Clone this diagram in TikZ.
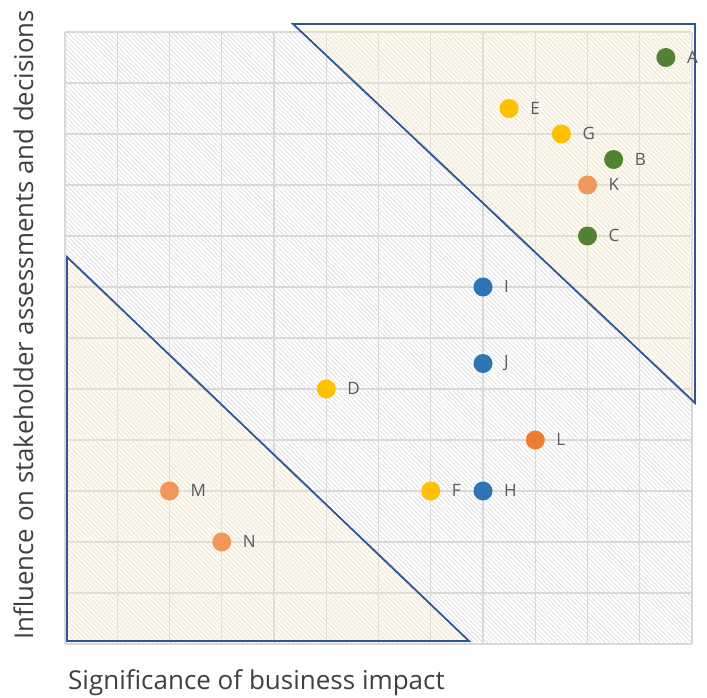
\documentclass[tikz,border=0pt]{standalone}
\usepackage{fontspec}
\setmainfont{Open Sans}
\usetikzlibrary{patterns.meta}
\definecolor{cgreen}{HTML}{548235}
\definecolor{cyellow}{HTML}{FFC000}
\definecolor{clorange}{HTML}{F1975A}
\definecolor{corange}{HTML}{ED7D31}
\definecolor{cblue}{HTML}{2E75B6}
\definecolor{cline}{HTML}{2F5597}
\definecolor{cgrid}{HTML}{D9D9D9}
\definecolor{ccream}{HTML}{FFF2CC}
\definecolor{ctext}{HTML}{404040}
\definecolor{clabel}{HTML}{595959}
\tikzset{
  dot/.style={circle, inner sep=0pt, minimum size=19pt},
  lbl/.style={text=clabel, font=\fontsize{17}{17}\selectfont, anchor=west, inner sep=0pt},
  zone/.style={draw=cline, line width=1.8pt, line join=miter, fill=ccream, fill opacity=0.28},
  gridline/.style={draw=cgrid, line width=1.3pt},
  hatch/.style={pattern={Lines[angle=-45, distance=3.2pt, line width=0.8pt]}, pattern color=black!12}
}
\begin{document}
\begin{tikzpicture}[x=1pt, y=-1pt]
\useasboundingbox (0,0) rectangle (707,698);
\fill[white] (0,0) rectangle (707,698);
% hatched plot area
\fill[hatch] (65,32) rectangle (692,644);
% grid
\begin{scope}[shift={(65,644)}, x=52.25pt, y=51pt]
  \foreach \i in {0,...,12} {
    \draw[gridline] (\i,0) -- (\i,12);
    \draw[gridline] (0,\i) -- (12,\i);
  }
\end{scope}
% zones
\draw[zone] (293,24) -- (695,24) -- (695,403) -- cycle;
\draw[zone] (67,257) -- (67,641) -- (469,641) -- cycle;
% points
\begin{scope}[shift={(65,644)}, x=52.25pt, y=51pt]
  \foreach \n/\px/\py/\c in {A/11.5/11.5/cgreen, E/8.5/10.5/cyellow, G/9.5/10/cyellow,
      B/10.5/9.5/cgreen, K/10/9/clorange, C/10/8/cgreen, I/8/7/cblue, J/8/5.5/cblue,
      D/5/5/cyellow, L/9/4/corange, F/7/3/cyellow, H/8/3/cblue, M/2/3/clorange, N/3/2/clorange} {
    \node[dot, fill=\c] (p\n) at (\px,\py) {};
    \node[lbl] (l\n) at ([xshift=21pt, yshift=0.5pt]p\n.center) {\n};
  }
\end{scope}
% axis titles
\node[anchor=base west, text=ctext, font=\fontsize{26}{26}\selectfont, inner sep=0pt] (xt) at (68,689) {Significance of business impact};
\node[anchor=base west, rotate=90, text=ctext, font=\fontsize{25.8}{26}\selectfont, inner sep=0pt] (yt) at (33,640) {Influence on stakeholder assessments and decisions};
\end{tikzpicture}
\end{document}
